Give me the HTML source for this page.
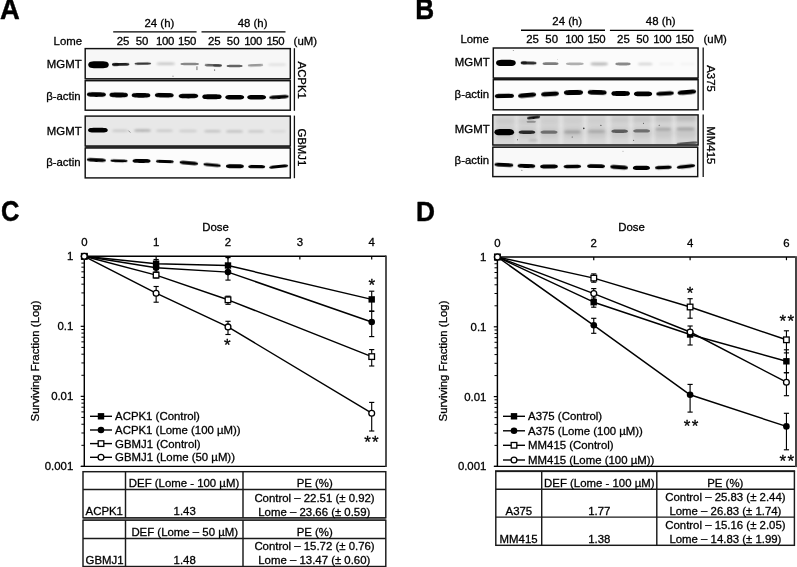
<!DOCTYPE html>
<html><head><meta charset="utf-8"><title>Figure</title>
<style>html,body{margin:0;padding:0;background:#fff;}body{width:797px;height:567px;overflow:hidden;font-family:"Liberation Sans",sans-serif;}svg{display:block;will-change:transform;}</style></head>
<body>
<svg width="797" height="567" viewBox="0 0 797 567" font-family='"Liberation Sans", sans-serif'>
<defs>
<filter id="b0" x="-50%" y="-100%" width="200%" height="300%"><feGaussianBlur stdDeviation="0.35"/></filter>
<filter id="b1" x="-20%" y="-100%" width="140%" height="300%"><feGaussianBlur stdDeviation="0.55"/></filter>
<filter id="b2" x="-20%" y="-100%" width="140%" height="300%"><feGaussianBlur stdDeviation="0.9"/></filter>
<filter id="b3" x="-20%" y="-100%" width="140%" height="300%"><feGaussianBlur stdDeviation="2.2"/></filter>
</defs>
<rect width="797" height="567" fill="#fff"/>
<text transform="translate(0.0 19.3) scale(1.0 1.055)" font-size="27.4" font-weight="bold" fill="#000" stroke="#000" stroke-width="0.45" stroke-linejoin="round">A</text>
<text transform="translate(415.3 19.3) scale(0.955 1.055)" font-size="27.4" font-weight="bold" fill="#000" stroke="#000" stroke-width="0.45" stroke-linejoin="round">B</text>
<text transform="translate(1.0 221.3) scale(0.93 1.05)" font-size="27.4" font-weight="bold" fill="#000" stroke="#000" stroke-width="0.45" stroke-linejoin="round">C</text>
<text transform="translate(416.0 221.3) scale(0.96 1.0)" font-size="27.4" font-weight="bold" fill="#000" stroke="#000" stroke-width="0.45" stroke-linejoin="round">D</text>
<text x="159.4" y="27.0" font-size="11.4" text-anchor="middle" font-weight="normal" fill="#000" stroke="#000" stroke-width="0.3" >24 (h)</text>
<text x="252.6" y="27.0" font-size="11.4" text-anchor="middle" font-weight="normal" fill="#000" stroke="#000" stroke-width="0.3" >48 (h)</text>
<line x1="113.2" y1="31.9" x2="196.6" y2="31.9" stroke="#000" stroke-width="1.35" />
<line x1="201.5" y1="31.9" x2="285.5" y2="31.9" stroke="#000" stroke-width="1.35" />
<text x="53.6" y="44.8" font-size="11.4" text-anchor="start" font-weight="normal" fill="#000" stroke="#000" stroke-width="0.3" >Lome</text>
<text x="123.1" y="44.8" font-size="11.4" text-anchor="middle" font-weight="normal" fill="#000" stroke="#000" stroke-width="0.3" >25</text>
<text x="142.0" y="44.8" font-size="11.4" text-anchor="middle" font-weight="normal" fill="#000" stroke="#000" stroke-width="0.3" >50</text>
<text x="165.0" y="44.8" font-size="11.4" text-anchor="middle" font-weight="normal" fill="#000" stroke="#000" stroke-width="0.3" letter-spacing="-0.4">100</text>
<text x="187.0" y="44.8" font-size="11.4" text-anchor="middle" font-weight="normal" fill="#000" stroke="#000" stroke-width="0.3" letter-spacing="-0.4">150</text>
<text x="214.3" y="44.8" font-size="11.4" text-anchor="middle" font-weight="normal" fill="#000" stroke="#000" stroke-width="0.3" >25</text>
<text x="233.2" y="44.8" font-size="11.4" text-anchor="middle" font-weight="normal" fill="#000" stroke="#000" stroke-width="0.3" >50</text>
<text x="253.1" y="44.8" font-size="11.4" text-anchor="middle" font-weight="normal" fill="#000" stroke="#000" stroke-width="0.3" letter-spacing="-0.4">100</text>
<text x="275.3" y="44.8" font-size="11.4" text-anchor="middle" font-weight="normal" fill="#000" stroke="#000" stroke-width="0.3" letter-spacing="-0.4">150</text>
<text x="293.6" y="44.8" font-size="11.4" text-anchor="start" font-weight="normal" fill="#000" stroke="#000" stroke-width="0.3" >(uM)</text>
<text x="81.6" y="68.1" font-size="11.4" text-anchor="end" font-weight="normal" fill="#000" stroke="#000" stroke-width="0.3" >MGMT</text>
<text x="80.6" y="99.5" font-size="11.4" text-anchor="end" font-weight="normal" fill="#000" stroke="#000" stroke-width="0.3" >&#946;-actin</text>
<text x="81.6" y="134.6" font-size="11.4" text-anchor="end" font-weight="normal" fill="#000" stroke="#000" stroke-width="0.3" >MGMT</text>
<text x="80.6" y="166.3" font-size="11.4" text-anchor="end" font-weight="normal" fill="#000" stroke="#000" stroke-width="0.3" >&#946;-actin</text>
<rect x="85.2" y="48.6" width="205.10000000000002" height="30.199999999999996" fill="#f7f7f7"/>
<rect x="85.2" y="80.7" width="205.10000000000002" height="29.5" fill="#fbfbfb"/>
<rect x="85.2" y="116.1" width="205.10000000000002" height="29.900000000000006" fill="#e8e8e8"/>
<rect x="85.2" y="148.0" width="205.10000000000002" height="29.900000000000006" fill="#fcfcfc"/>
<clipPath id="ca1"><rect x="85.2" y="48.6" width="205.10000000000002" height="29.699999999999996"/></clipPath>
<g clip-path="url(#ca1)">
<path d="M88.2,64.8 C88.8,61.3 91.1,61.3 98.5,61.3 S108.2,61.3 108.8,64.8 C108.2,68.3 105.9,68.3 98.5,68.3 S88.8,68.3 88.2,64.8Z" fill="#000" fill-opacity="1.0" filter="url(#b1)"/>
<path d="M111.9,64.4 C112.4,63.1 114.4,63.1 120.7,63.1 S128.9,63.1 129.4,64.4 C128.9,65.8 127.0,65.8 120.7,65.8 S112.4,65.8 111.9,64.4Z" fill="#000" fill-opacity="0.88" filter="url(#b1)" transform="rotate(-1.0 120.65 64.4)"/>
<path d="M112.2,64.5 C112.4,62.7 113.2,62.7 115.6,62.7 S118.8,62.7 119.0,64.5 C118.8,66.3 118.0,66.3 115.6,66.3 S112.4,66.3 112.2,64.5Z" fill="#000" fill-opacity="0.45" filter="url(#b1)"/>
<path d="M134.5,63.6 C135.0,62.4 136.8,62.4 142.8,62.4 S150.7,62.4 151.2,63.6 C150.7,64.8 148.9,64.8 142.8,64.8 S135.0,64.8 134.5,63.6Z" fill="#000" fill-opacity="0.78" filter="url(#b1)" transform="rotate(-1.0 142.85 63.6)"/>
<path d="M156.5,63.8 C157.0,62.6 159.1,62.6 165.8,62.6 S174.5,62.6 175.0,63.8 C174.5,65.0 172.4,65.0 165.8,65.0 S157.0,65.0 156.5,63.8Z" fill="#000" fill-opacity="0.2" filter="url(#b2)"/>
<path d="M180.4,64.0 C180.9,62.8 183.0,62.8 189.7,62.8 S198.5,62.8 199.0,64.0 C198.5,65.2 196.4,65.2 189.7,65.2 S180.9,65.2 180.4,64.0Z" fill="#000" fill-opacity="0.45" filter="url(#b1)"/>
<path d="M204.6,65.3 C205.1,64.0 207.0,64.0 213.3,64.0 S221.5,64.0 222.0,65.3 C221.5,66.6 219.6,66.6 213.3,66.6 S205.1,66.6 204.6,65.3Z" fill="#000" fill-opacity="0.6" filter="url(#b1)" transform="rotate(1.6 213.3 65.3)"/>
<path d="M213.0,65.6 C213.3,64.2 214.3,64.2 217.5,64.2 S221.7,64.2 222.0,65.6 C221.7,67.0 220.7,67.0 217.5,67.0 S213.3,67.0 213.0,65.6Z" fill="#000" fill-opacity="0.35" filter="url(#b1)"/>
<path d="M226.6,66.0 C227.0,64.8 228.8,64.8 234.6,64.8 S242.2,64.8 242.6,66.0 C242.2,67.2 240.4,67.2 234.6,67.2 S227.0,67.2 226.6,66.0Z" fill="#000" fill-opacity="0.6" filter="url(#b1)"/>
<path d="M247.8,65.3 C248.2,64.1 250.0,64.1 255.5,64.1 S262.8,64.1 263.2,65.3 C262.8,66.5 261.0,66.5 255.5,66.5 S248.2,66.5 247.8,65.3Z" fill="#000" fill-opacity="0.38" filter="url(#b1)" transform="rotate(-2.2 255.5 65.3)"/>
<path d="M267.8,64.6 C268.3,63.4 270.4,63.4 277.1,63.4 S285.9,63.4 286.4,64.6 C285.9,65.8 283.8,65.8 277.1,65.8 S268.3,65.8 267.8,64.6Z" fill="#000" fill-opacity="0.1" filter="url(#b2)"/>
<rect x="196.5" y="66.3" width="0.9" height="3.8" fill="#000" fill-opacity="0.6" filter="url(#b0)"/>
<circle cx="214.6" cy="70.0" r="0.6" fill="#000" fill-opacity="0.9" filter="url(#b0)"/>
<circle cx="173" cy="76.3" r="0.7" fill="#000" fill-opacity="0.35" filter="url(#b0)"/>
</g>
<clipPath id="ca2"><rect x="85.2" y="80.6" width="205.10000000000002" height="29.60000000000001"/></clipPath>
<g clip-path="url(#ca2)">
<path d="M86.8,94.6 C87.3,92.2 89.5,92.2 96.4,92.2 S105.5,92.2 106.0,94.6 C105.5,96.9 103.3,96.9 96.4,96.9 S87.3,96.9 86.8,94.6Z" fill="#000" fill-opacity="1.0" filter="url(#b1)" transform="rotate(0.9 96.4 94.6)"/>
<path d="M109.4,95.0 C109.9,92.6 112.0,92.6 118.7,92.6 S127.5,92.6 128.0,95.0 C127.5,97.4 125.4,97.4 118.7,97.4 S109.9,97.4 109.4,95.0Z" fill="#000" fill-opacity="1.0" filter="url(#b1)" transform="rotate(0.9 118.7 95.0)"/>
<path d="M131.6,95.3 C132.1,92.9 134.2,92.9 141.0,92.9 S149.9,92.9 150.4,95.3 C149.9,97.7 147.8,97.7 141.0,97.7 S132.1,97.7 131.6,95.3Z" fill="#000" fill-opacity="1.0" filter="url(#b1)" transform="rotate(0.6 141.0 95.3)"/>
<path d="M154.8,95.2 C155.3,93.0 157.5,93.0 164.3,93.0 S173.3,93.0 173.8,95.2 C173.3,97.4 171.1,97.4 164.3,97.4 S155.3,97.4 154.8,95.2Z" fill="#000" fill-opacity="1.0" filter="url(#b1)" transform="rotate(0.9 164.3 95.2)"/>
<path d="M178.6,96.1 C179.2,93.8 181.4,93.8 188.4,93.8 S197.7,93.8 198.3,96.1 C197.7,98.4 195.5,98.4 188.4,98.4 S179.2,98.4 178.6,96.1Z" fill="#000" fill-opacity="1.0" filter="url(#b1)" transform="rotate(-0.6 188.45 96.1)"/>
<path d="M202.2,96.8 C202.7,94.3 204.9,94.3 211.9,94.3 S221.2,94.3 221.7,96.8 C221.2,99.3 219.0,99.3 211.9,99.3 S202.7,99.3 202.2,96.8Z" fill="#000" fill-opacity="1.0" filter="url(#b1)"/>
<path d="M225.2,97.2 C225.7,94.9 227.9,94.9 234.7,94.9 S243.7,94.9 244.2,97.2 C243.7,99.5 241.5,99.5 234.7,99.5 S225.7,99.5 225.2,97.2Z" fill="#000" fill-opacity="1.0" filter="url(#b1)"/>
<path d="M247.2,97.2 C247.7,94.9 249.8,94.9 256.6,94.9 S265.6,94.9 266.1,97.2 C265.6,99.5 263.5,99.5 256.6,99.5 S247.7,99.5 247.2,97.2Z" fill="#000" fill-opacity="1.0" filter="url(#b1)"/>
<path d="M269.1,97.1 C269.7,95.2 271.9,95.2 279.0,95.2 S288.2,95.2 288.8,97.1 C288.2,98.9 286.0,98.9 279.0,98.9 S269.7,98.9 269.1,97.1Z" fill="#000" fill-opacity="1.0" filter="url(#b1)" transform="rotate(-3.5 278.95000000000005 97.1)"/>
</g>
<clipPath id="ca3"><rect x="85.2" y="116.0" width="205.10000000000002" height="29.599999999999994"/></clipPath>
<g clip-path="url(#ca3)">
<path d="M88.0,130.2 C88.6,127.8 90.8,127.8 97.9,127.8 S107.2,127.8 107.8,130.2 C107.2,132.6 105.0,132.6 97.9,132.6 S88.6,132.6 88.0,130.2Z" fill="#000" fill-opacity="1.0" filter="url(#b1)"/>
<path d="M112.0,130.8 C112.4,129.6 114.2,129.6 120.0,129.6 S127.6,129.6 128.0,130.8 C127.6,132.0 125.8,132.0 120.0,132.0 S112.4,132.0 112.0,130.8Z" fill="#000" fill-opacity="0.13" filter="url(#b2)"/>
<path d="M134.0,130.6 C134.5,129.3 136.4,129.3 142.5,129.3 S150.5,129.3 151.0,130.6 C150.5,131.9 148.6,131.9 142.5,131.9 S134.5,131.9 134.0,130.6Z" fill="#000" fill-opacity="0.24" filter="url(#b2)"/>
<path d="M156.0,130.8 C156.5,129.6 158.4,129.6 164.5,129.6 S172.5,129.6 173.0,130.8 C172.5,132.0 170.6,132.0 164.5,132.0 S156.5,132.0 156.0,130.8Z" fill="#000" fill-opacity="0.13" filter="url(#b2)"/>
<path d="M179.0,131.0 C179.5,129.8 181.5,129.8 188.0,129.8 S196.5,129.8 197.0,131.0 C196.5,132.2 194.5,132.2 188.0,132.2 S179.5,132.2 179.0,131.0Z" fill="#000" fill-opacity="0.12" filter="url(#b2)"/>
<path d="M204.0,131.2 C204.5,130.0 206.4,130.0 212.5,130.0 S220.5,130.0 221.0,131.2 C220.5,132.4 218.6,132.4 212.5,132.4 S204.5,132.4 204.0,131.2Z" fill="#000" fill-opacity="0.16" filter="url(#b2)"/>
<path d="M226.0,131.4 C226.5,130.2 228.4,130.2 234.5,130.2 S242.5,130.2 243.0,131.4 C242.5,132.6 240.6,132.6 234.5,132.6 S226.5,132.6 226.0,131.4Z" fill="#000" fill-opacity="0.18" filter="url(#b2)"/>
<path d="M248.0,131.4 C248.4,130.2 250.2,130.2 256.0,130.2 S263.6,130.2 264.0,131.4 C263.6,132.6 261.8,132.6 256.0,132.6 S248.4,132.6 248.0,131.4Z" fill="#000" fill-opacity="0.15" filter="url(#b2)"/>
<path d="M270.0,131.2 C270.4,130.0 272.2,130.0 278.0,130.0 S285.6,130.0 286.0,131.2 C285.6,132.4 283.8,132.4 278.0,132.4 S270.4,132.4 270.0,131.2Z" fill="#000" fill-opacity="0.07" filter="url(#b2)"/>
<line x1="128.4" y1="130.6" x2="130.4" y2="132.6" stroke="#000" stroke-opacity="0.55" stroke-width="0.7"/>
</g>
<clipPath id="ca4"><rect x="85.2" y="148.3" width="205.10000000000002" height="29.299999999999983"/></clipPath>
<g clip-path="url(#ca4)">
<path d="M86.7,160.1 C87.2,158.2 89.4,158.2 96.3,158.2 S105.5,158.2 106.0,160.1 C105.5,161.9 103.3,161.9 96.3,161.9 S87.2,161.9 86.7,160.1Z" fill="#000" fill-opacity="1.0" filter="url(#b1)" transform="rotate(2.7 96.35 160.1)"/>
<path d="M110.3,160.8 C110.8,159.4 112.7,159.4 119.0,159.4 S127.2,159.4 127.7,160.8 C127.2,162.2 125.3,162.2 119.0,162.2 S110.8,162.2 110.3,160.8Z" fill="#000" fill-opacity="1.0" filter="url(#b1)" transform="rotate(1.6 119.0 160.8)"/>
<path d="M132.5,161.0 C133.0,159.1 135.0,159.1 141.6,159.1 S150.1,159.1 150.6,161.0 C150.1,162.9 148.1,162.9 141.6,162.9 S133.0,162.9 132.5,161.0Z" fill="#000" fill-opacity="1.0" filter="url(#b1)" transform="rotate(0.6 141.55 161.0)"/>
<path d="M155.8,161.5 C156.3,160.0 158.3,160.0 164.9,160.0 S173.4,160.0 173.9,161.5 C173.4,163.0 171.4,163.0 164.9,163.0 S156.3,163.0 155.8,161.5Z" fill="#000" fill-opacity="1.0" filter="url(#b1)" transform="rotate(1.9 164.85000000000002 161.5)"/>
<path d="M179.5,163.0 C180.0,161.2 182.1,161.2 188.8,161.2 S197.7,161.2 198.2,163.0 C197.7,164.8 195.6,164.8 188.8,164.8 S180.0,164.8 179.5,163.0Z" fill="#000" fill-opacity="1.0" filter="url(#b1)" transform="rotate(4.9 188.85 163.0)"/>
<path d="M203.3,165.1 C203.8,163.6 205.8,163.6 212.1,163.6 S220.4,163.6 220.9,165.1 C220.4,166.6 218.4,166.6 212.1,166.6 S203.8,166.6 203.3,165.1Z" fill="#000" fill-opacity="1.0" filter="url(#b1)" transform="rotate(5.2 212.10000000000002 165.1)"/>
<path d="M225.9,166.3 C226.4,164.3 228.4,164.3 234.9,164.3 S243.4,164.3 243.9,166.3 C243.4,168.3 241.4,168.3 234.9,168.3 S226.4,168.3 225.9,166.3Z" fill="#000" fill-opacity="1.0" filter="url(#b1)" transform="rotate(0.6 234.9 166.3)"/>
<path d="M248.2,166.7 C248.7,165.1 250.6,165.1 256.7,165.1 S264.7,165.1 265.2,166.7 C264.7,168.3 262.8,168.3 256.7,168.3 S248.7,168.3 248.2,166.7Z" fill="#000" fill-opacity="1.0" filter="url(#b1)" transform="rotate(0.7 256.7 166.7)"/>
<path d="M269.1,166.5 C269.6,164.9 271.8,164.9 278.6,164.9 S287.7,164.9 288.2,166.5 C287.7,168.1 285.5,168.1 278.6,168.1 S269.6,168.1 269.1,166.5Z" fill="#000" fill-opacity="1.0" filter="url(#b1)" transform="rotate(-5.7 278.65 166.5)"/>
</g>
<rect x="85.2" y="146.0" width="205.10000000000002" height="2.0" fill="#5c5c5c"/>
<rect x="85.2" y="78.8" width="205.10000000000002" height="1.9" fill="#b8b8b8"/>
<rect x="85.2" y="48.6" width="205.10000000000002" height="30.199999999999996" fill="none" stroke="#111" stroke-width="1.45"/>
<rect x="85.2" y="80.7" width="205.10000000000002" height="29.5" fill="none" stroke="#111" stroke-width="1.45"/>
<rect x="85.2" y="116.1" width="205.10000000000002" height="29.900000000000006" fill="none" stroke="#111" stroke-width="1.45"/>
<rect x="85.2" y="148.0" width="205.10000000000002" height="29.900000000000006" fill="none" stroke="#111" stroke-width="1.45"/>
<line x1="294.4" y1="48.2" x2="294.4" y2="110.8" stroke="#111" stroke-width="1.3" />
<line x1="294.4" y1="115.6" x2="294.4" y2="178.2" stroke="#111" stroke-width="1.3" />
<text x="0" y="0" font-size="11.4" text-anchor="middle" font-weight="normal" fill="#000" stroke="#000" stroke-width="0.3" transform="translate(297.8 80.2) rotate(90)">ACPK1</text>
<text x="0" y="0" font-size="11.4" text-anchor="middle" font-weight="normal" fill="#000" stroke="#000" stroke-width="0.3" transform="translate(297.8 147.4) rotate(90)">GBMJ1</text>
<text x="567.2" y="24.8" font-size="11.4" text-anchor="middle" font-weight="normal" fill="#000" stroke="#000" stroke-width="0.3" >24 (h)</text>
<text x="660.7" y="24.9" font-size="11.4" text-anchor="middle" font-weight="normal" fill="#000" stroke="#000" stroke-width="0.3" >48 (h)</text>
<line x1="521.0" y1="30.2" x2="605.0" y2="30.2" stroke="#000" stroke-width="1.35" />
<line x1="609.9" y1="30.3" x2="693.5" y2="30.3" stroke="#000" stroke-width="1.35" />
<text x="460.4" y="42.9" font-size="11.4" text-anchor="start" font-weight="normal" fill="#000" stroke="#000" stroke-width="0.3" >Lome</text>
<text x="532.6" y="42.9" font-size="11.4" text-anchor="middle" font-weight="normal" fill="#000" stroke="#000" stroke-width="0.3" >25</text>
<text x="551.7" y="42.9" font-size="11.4" text-anchor="middle" font-weight="normal" fill="#000" stroke="#000" stroke-width="0.3" >50</text>
<text x="574.2" y="42.9" font-size="11.4" text-anchor="middle" font-weight="normal" fill="#000" stroke="#000" stroke-width="0.3" letter-spacing="-0.4">100</text>
<text x="596.3" y="42.9" font-size="11.4" text-anchor="middle" font-weight="normal" fill="#000" stroke="#000" stroke-width="0.3" letter-spacing="-0.4">150</text>
<text x="623.4" y="42.9" font-size="11.4" text-anchor="middle" font-weight="normal" fill="#000" stroke="#000" stroke-width="0.3" >25</text>
<text x="642.6" y="42.9" font-size="11.4" text-anchor="middle" font-weight="normal" fill="#000" stroke="#000" stroke-width="0.3" >50</text>
<text x="662.2" y="42.9" font-size="11.4" text-anchor="middle" font-weight="normal" fill="#000" stroke="#000" stroke-width="0.3" letter-spacing="-0.4">100</text>
<text x="684.5" y="42.9" font-size="11.4" text-anchor="middle" font-weight="normal" fill="#000" stroke="#000" stroke-width="0.3" letter-spacing="-0.4">150</text>
<text x="703.5" y="42.9" font-size="11.4" text-anchor="start" font-weight="normal" fill="#000" stroke="#000" stroke-width="0.3" >(uM)</text>
<text x="489.6" y="66.3" font-size="11.4" text-anchor="end" font-weight="normal" fill="#000" stroke="#000" stroke-width="0.3" >MGMT</text>
<text x="489.0" y="97.6" font-size="11.4" text-anchor="end" font-weight="normal" fill="#000" stroke="#000" stroke-width="0.3" >&#946;-actin</text>
<text x="489.6" y="132.6" font-size="11.4" text-anchor="end" font-weight="normal" fill="#000" stroke="#000" stroke-width="0.3" >MGMT</text>
<text x="489.0" y="163.9" font-size="11.4" text-anchor="end" font-weight="normal" fill="#000" stroke="#000" stroke-width="0.3" >&#946;-actin</text>
<rect x="493.3" y="48.0" width="204.8" height="30.0" fill="#fbfbfb"/>
<rect x="493.3" y="79.7" width="204.8" height="30.099999999999994" fill="#fcfcfc"/>
<rect x="492.8" y="114.9" width="205.3" height="30.099999999999994" fill="#e1e1e1"/>
<rect x="492.8" y="147.2" width="204.90000000000003" height="29.400000000000006" fill="#f9f9f9"/>
<clipPath id="cb1"><rect x="493.3" y="48.0" width="204.8" height="29.599999999999994"/></clipPath>
<g clip-path="url(#cb1)">
<path d="M496.0,62.9 C496.6,59.8 498.8,59.8 505.9,59.8 S515.2,59.8 515.8,62.9 C515.2,66.0 513.0,66.0 505.9,66.0 S496.6,66.0 496.0,62.9Z" fill="#000" fill-opacity="1.0" filter="url(#b1)"/>
<path d="M520.6,63.1 C521.0,61.6 522.8,61.6 528.6,61.6 S536.2,61.6 536.6,63.1 C536.2,64.6 534.4,64.6 528.6,64.6 S521.0,64.6 520.6,63.1Z" fill="#000" fill-opacity="0.82" filter="url(#b1)" transform="rotate(1.4 528.6 63.1)"/>
<path d="M520.8,62.8 C521.0,61.2 521.7,61.2 523.9,61.2 S526.8,61.2 527.0,62.8 C526.8,64.4 526.1,64.4 523.9,64.4 S521.0,64.4 520.8,62.8Z" fill="#000" fill-opacity="0.5" filter="url(#b1)"/>
<path d="M542.5,63.7 C543.0,62.3 544.8,62.3 550.5,62.3 S558.1,62.3 558.6,63.7 C558.1,65.1 556.3,65.1 550.5,65.1 S543.0,65.1 542.5,63.7Z" fill="#000" fill-opacity="0.5" filter="url(#b1)"/>
<path d="M565.8,63.8 C566.3,62.4 568.3,62.4 574.8,62.4 S583.3,62.4 583.8,63.8 C583.3,65.2 581.3,65.2 574.8,65.2 S566.3,65.2 565.8,63.8Z" fill="#000" fill-opacity="0.3" filter="url(#b1)"/>
<path d="M590.4,64.0 C590.9,62.6 592.9,62.6 599.2,62.6 S607.5,62.6 608.0,64.0 C607.5,65.4 605.5,65.4 599.2,65.4 S590.9,65.4 590.4,64.0Z" fill="#000" fill-opacity="0.27" filter="url(#b2)"/>
<path d="M615.3,64.0 C615.7,62.6 617.5,62.6 623.0,62.6 S630.3,62.6 630.7,64.0 C630.3,65.4 628.5,65.4 623.0,65.4 S615.7,65.4 615.3,64.0Z" fill="#000" fill-opacity="0.45" filter="url(#b1)"/>
<path d="M637.9,64.0 C638.3,62.7 640.0,62.7 645.2,62.7 S652.2,62.7 652.6,64.0 C652.2,65.3 650.5,65.3 645.2,65.3 S638.3,65.3 637.9,64.0Z" fill="#000" fill-opacity="0.15" filter="url(#b2)"/>
<path d="M659.0,64.0 C659.4,62.8 661.1,62.8 666.5,62.8 S673.6,62.8 674.0,64.0 C673.6,65.2 671.9,65.2 666.5,65.2 S659.4,65.2 659.0,64.0Z" fill="#000" fill-opacity="0.04" filter="url(#b2)"/>
<path d="M680.0,64.0 C680.4,62.8 682.1,62.8 687.5,62.8 S694.6,62.8 695.0,64.0 C694.6,65.2 692.9,65.2 687.5,65.2 S680.4,65.2 680.0,64.0Z" fill="#000" fill-opacity="0.03" filter="url(#b2)"/>
<circle cx="513.3" cy="50.4" r="0.5" fill="#000" fill-opacity="0.5" filter="url(#b0)"/>
<circle cx="557.5" cy="59.6" r="0.4" fill="#000" fill-opacity="0.4" filter="url(#b0)"/>
</g>
<clipPath id="cb2"><rect x="493.3" y="79.4" width="204.8" height="30.39999999999999"/></clipPath>
<g clip-path="url(#cb2)">
<path d="M494.7,95.9 C495.2,93.8 497.4,93.8 504.4,93.8 S513.6,93.8 514.1,95.9 C513.6,98.1 511.4,98.1 504.4,98.1 S495.2,98.1 494.7,95.9Z" fill="#000" fill-opacity="1.0" filter="url(#b1)" transform="rotate(-1.2 504.4 95.9)"/>
<path d="M518.0,95.2 C518.5,93.0 520.5,93.0 527.1,93.0 S535.7,93.0 536.2,95.2 C535.7,97.5 533.7,97.5 527.1,97.5 S518.5,97.5 518.0,95.2Z" fill="#000" fill-opacity="1.0" filter="url(#b1)" transform="rotate(-5.0 527.1 95.2)"/>
<path d="M541.0,93.9 C541.5,91.7 543.5,91.7 550.0,91.7 S558.5,91.7 559.0,93.9 C558.5,96.2 556.5,96.2 550.0,96.2 S541.5,96.2 541.0,93.9Z" fill="#000" fill-opacity="1.0" filter="url(#b1)" transform="rotate(-3.2 550.0 93.9)"/>
<path d="M563.8,92.5 C564.3,89.9 566.5,89.9 573.5,89.9 S582.6,89.9 583.1,92.5 C582.6,95.1 580.4,95.1 573.5,95.1 S564.3,95.1 563.8,92.5Z" fill="#000" fill-opacity="1.0" filter="url(#b1)" transform="rotate(-0.9 573.45 92.5)"/>
<path d="M587.7,92.4 C588.2,90.0 590.4,90.0 597.2,90.0 S606.2,90.0 606.7,92.4 C606.2,94.8 604.0,94.8 597.2,94.8 S588.2,94.8 587.7,92.4Z" fill="#000" fill-opacity="1.0" filter="url(#b1)" transform="rotate(1.5 597.2 92.4)"/>
<path d="M611.3,93.5 C611.8,91.0 613.9,91.0 620.6,91.0 S629.5,91.0 630.0,93.5 C629.5,96.0 627.4,96.0 620.6,96.0 S611.8,96.0 611.3,93.5Z" fill="#000" fill-opacity="1.0" filter="url(#b1)"/>
<path d="M633.9,93.9 C634.4,91.6 636.5,91.6 643.0,91.6 S651.7,91.6 652.2,93.9 C651.7,96.2 649.6,96.2 643.0,96.2 S634.4,96.2 633.9,93.9Z" fill="#000" fill-opacity="1.0" filter="url(#b1)"/>
<path d="M656.2,93.5 C656.7,91.5 658.7,91.5 665.0,91.5 S673.4,91.5 673.9,93.5 C673.4,95.5 671.4,95.5 665.0,95.5 S656.7,95.5 656.2,93.5Z" fill="#000" fill-opacity="1.0" filter="url(#b1)" transform="rotate(-3.2 665.05 93.5)"/>
<path d="M677.5,92.3 C678.0,90.1 680.1,90.1 686.9,90.1 S695.7,90.1 696.2,92.3 C695.7,94.5 693.6,94.5 686.9,94.5 S678.0,94.5 677.5,92.3Z" fill="#000" fill-opacity="1.0" filter="url(#b1)" transform="rotate(-4.9 686.85 92.3)"/>
</g>
<clipPath id="cb3"><rect x="493.3" y="114.9" width="204.8" height="29.69999999999999"/></clipPath>
<g clip-path="url(#cb3)">
<rect x="495" y="114" width="20" height="32" fill="#000" fill-opacity="0.045" filter="url(#b2)"/>
<rect x="518" y="114" width="19" height="32" fill="#000" fill-opacity="0.045" filter="url(#b2)"/>
<rect x="540" y="114" width="19" height="32" fill="#000" fill-opacity="0.045" filter="url(#b2)"/>
<rect x="563" y="114" width="20" height="32" fill="#000" fill-opacity="0.045" filter="url(#b2)"/>
<rect x="587" y="114" width="19" height="32" fill="#000" fill-opacity="0.045" filter="url(#b2)"/>
<rect x="611" y="114" width="18" height="32" fill="#000" fill-opacity="0.045" filter="url(#b2)"/>
<rect x="633" y="114" width="18" height="32" fill="#000" fill-opacity="0.045" filter="url(#b2)"/>
<rect x="655" y="114" width="17" height="32" fill="#000" fill-opacity="0.045" filter="url(#b2)"/>
<rect x="676" y="114" width="20" height="32" fill="#000" fill-opacity="0.045" filter="url(#b2)"/>
<path d="M495.0,121.3 C495.6,119.0 497.8,119.0 505.0,119.0 S514.4,119.0 515.0,121.3 C514.4,123.5 512.2,123.5 505.0,123.5 S495.6,123.5 495.0,121.3Z" fill="#000" fill-opacity="0.09000000000000001" filter="url(#b3)"/>
<path d="M495.0,132.5 C495.6,127.0 497.8,127.0 505.0,127.0 S514.4,127.0 515.0,132.5 C514.4,138.0 512.2,138.0 505.0,138.0 S495.6,138.0 495.0,132.5Z" fill="#000" fill-opacity="0.07" filter="url(#b3)"/>
<path d="M518.0,121.3 C518.5,119.0 520.7,119.0 527.5,119.0 S536.5,119.0 537.0,121.3 C536.5,123.5 534.3,123.5 527.5,123.5 S518.5,123.5 518.0,121.3Z" fill="#000" fill-opacity="0.09000000000000001" filter="url(#b3)"/>
<path d="M518.0,132.5 C518.5,127.0 520.7,127.0 527.5,127.0 S536.5,127.0 537.0,132.5 C536.5,138.0 534.3,138.0 527.5,138.0 S518.5,138.0 518.0,132.5Z" fill="#000" fill-opacity="0.07" filter="url(#b3)"/>
<path d="M540.0,121.0 C540.5,118.8 542.7,118.8 549.5,118.8 S558.5,118.8 559.0,121.0 C558.5,123.2 556.3,123.2 549.5,123.2 S540.5,123.2 540.0,121.0Z" fill="#000" fill-opacity="0.07200000000000001" filter="url(#b3)"/>
<path d="M540.0,132.5 C540.5,127.0 542.7,127.0 549.5,127.0 S558.5,127.0 559.0,132.5 C558.5,138.0 556.3,138.0 549.5,138.0 S540.5,138.0 540.0,132.5Z" fill="#000" fill-opacity="0.07" filter="url(#b3)"/>
<path d="M563.0,120.8 C563.6,118.5 565.8,118.5 573.0,118.5 S582.4,118.5 583.0,120.8 C582.4,123.0 580.2,123.0 573.0,123.0 S563.6,123.0 563.0,120.8Z" fill="#000" fill-opacity="0.06300000000000001" filter="url(#b3)"/>
<path d="M563.0,132.5 C563.6,127.0 565.8,127.0 573.0,127.0 S582.4,127.0 583.0,132.5 C582.4,138.0 580.2,138.0 573.0,138.0 S563.6,138.0 563.0,132.5Z" fill="#000" fill-opacity="0.07" filter="url(#b3)"/>
<path d="M587.0,120.6 C587.6,118.3 589.8,118.3 597.0,118.3 S606.4,118.3 607.0,120.6 C606.4,122.8 604.2,122.8 597.0,122.8 S587.6,122.8 587.0,120.6Z" fill="#000" fill-opacity="0.06300000000000001" filter="url(#b3)"/>
<path d="M587.0,132.5 C587.6,127.0 589.8,127.0 597.0,127.0 S606.4,127.0 607.0,132.5 C606.4,138.0 604.2,138.0 597.0,138.0 S587.6,138.0 587.0,132.5Z" fill="#000" fill-opacity="0.07" filter="url(#b3)"/>
<path d="M610.0,119.8 C610.6,117.5 612.8,117.5 620.0,117.5 S629.4,117.5 630.0,119.8 C629.4,122.0 627.2,122.0 620.0,122.0 S610.6,122.0 610.0,119.8Z" fill="#000" fill-opacity="0.09000000000000001" filter="url(#b3)"/>
<path d="M610.0,132.5 C610.6,127.0 612.8,127.0 620.0,127.0 S629.4,127.0 630.0,132.5 C629.4,138.0 627.2,138.0 620.0,138.0 S610.6,138.0 610.0,132.5Z" fill="#000" fill-opacity="0.07" filter="url(#b3)"/>
<path d="M632.0,119.4 C632.6,117.2 634.8,117.2 642.0,117.2 S651.4,117.2 652.0,119.4 C651.4,121.7 649.2,121.7 642.0,121.7 S632.6,121.7 632.0,119.4Z" fill="#000" fill-opacity="0.108" filter="url(#b3)"/>
<path d="M632.0,132.5 C632.6,127.0 634.8,127.0 642.0,127.0 S651.4,127.0 652.0,132.5 C651.4,138.0 649.2,138.0 642.0,138.0 S632.6,138.0 632.0,132.5Z" fill="#000" fill-opacity="0.07" filter="url(#b3)"/>
<path d="M654.0,119.0 C654.5,116.8 656.7,116.8 663.5,116.8 S672.5,116.8 673.0,119.0 C672.5,121.2 670.3,121.2 663.5,121.2 S654.5,121.2 654.0,119.0Z" fill="#000" fill-opacity="0.12600000000000003" filter="url(#b3)"/>
<path d="M654.0,132.5 C654.5,127.0 656.7,127.0 663.5,127.0 S672.5,127.0 673.0,132.5 C672.5,138.0 670.3,138.0 663.5,138.0 S654.5,138.0 654.0,132.5Z" fill="#000" fill-opacity="0.07" filter="url(#b3)"/>
<path d="M675.0,118.2 C675.6,116.0 678.1,116.0 686.0,116.0 S696.4,116.0 697.0,118.2 C696.4,120.5 693.9,120.5 686.0,120.5 S675.6,120.5 675.0,118.2Z" fill="#000" fill-opacity="0.18000000000000002" filter="url(#b3)"/>
<path d="M675.0,132.5 C675.6,127.0 678.1,127.0 686.0,127.0 S696.4,127.0 697.0,132.5 C696.4,138.0 693.9,138.0 686.0,138.0 S675.6,138.0 675.0,132.5Z" fill="#000" fill-opacity="0.07" filter="url(#b3)"/>
<path d="M494.4,132.2 C495.0,129.1 497.2,129.1 504.2,129.1 S513.5,129.1 514.1,132.2 C513.5,135.3 511.3,135.3 504.2,135.3 S495.0,135.3 494.4,132.2Z" fill="#000" fill-opacity="1.0" filter="url(#b1)"/>
<path d="M518.6,132.2 C519.1,130.5 520.9,130.5 527.0,130.5 S534.8,130.5 535.3,132.2 C534.8,133.9 533.0,133.9 527.0,133.9 S519.1,133.9 518.6,132.2Z" fill="#000" fill-opacity="0.8" filter="url(#b1)"/>
<path d="M540.5,132.2 C541.0,130.6 542.9,130.6 549.0,130.6 S557.0,130.6 557.5,132.2 C557.0,133.8 555.1,133.8 549.0,133.8 S541.0,133.8 540.5,132.2Z" fill="#000" fill-opacity="0.45" filter="url(#b1)"/>
<path d="M563.8,132.0 C564.3,130.5 566.2,130.5 572.3,130.5 S580.4,130.5 580.9,132.0 C580.4,133.5 578.5,133.5 572.3,133.5 S564.3,133.5 563.8,132.0Z" fill="#000" fill-opacity="0.2" filter="url(#b2)"/>
<path d="M587.7,131.4 C588.2,129.9 590.2,129.9 596.5,129.9 S604.8,129.9 605.3,131.4 C604.8,132.9 602.8,132.9 596.5,132.9 S588.2,132.9 587.7,131.4Z" fill="#000" fill-opacity="0.15" filter="url(#b2)"/>
<path d="M611.3,131.3 C611.8,129.6 613.6,129.6 619.6,129.6 S627.5,129.6 628.0,131.3 C627.5,133.0 625.7,133.0 619.6,133.0 S611.8,133.0 611.3,131.3Z" fill="#000" fill-opacity="0.55" filter="url(#b1)"/>
<path d="M633.2,130.9 C633.7,129.3 635.6,129.3 641.6,129.3 S649.5,129.3 650.0,130.9 C649.5,132.5 647.6,132.5 641.6,132.5 S633.7,132.5 633.2,130.9Z" fill="#000" fill-opacity="0.45" filter="url(#b1)"/>
<path d="M655.2,129.3 C655.6,127.8 657.4,127.8 663.2,127.8 S670.8,127.8 671.2,129.3 C670.8,130.8 669.0,130.8 663.2,130.8 S655.6,130.8 655.2,129.3Z" fill="#000" fill-opacity="0.16" filter="url(#b2)"/>
<path d="M676.4,129.0 C676.9,127.5 678.9,127.5 685.5,127.5 S694.0,127.5 694.5,129.0 C694.0,130.5 692.0,130.5 685.5,130.5 S676.9,130.5 676.4,129.0Z" fill="#000" fill-opacity="0.18" filter="url(#b2)"/>
<path d="M527.0,117.6 C527.4,116.3 528.8,116.3 533.6,116.3 S539.8,116.3 540.2,117.6 C539.8,118.9 538.4,118.9 533.6,118.9 S527.4,118.9 527.0,117.6Z" fill="#000" fill-opacity="0.95" filter="url(#b0)" transform="rotate(-6.1 533.6 117.6)"/>
<path d="M526.5,121.7 C526.8,120.7 527.8,120.7 531.2,120.7 S535.7,120.7 536.0,121.7 C535.7,122.7 534.7,122.7 531.2,122.7 S526.8,122.7 526.5,121.7Z" fill="#000" fill-opacity="0.3" filter="url(#b1)"/>
<path d="M528.5,140.3 C528.8,139.2 529.8,139.2 533.2,139.2 S537.7,139.2 538.0,140.3 C537.7,141.4 536.7,141.4 533.2,141.4 S528.8,141.4 528.5,140.3Z" fill="#000" fill-opacity="0.14" filter="url(#b2)"/>
<path d="M676.4,143.4 C677.0,142.1 679.4,142.1 687.0,142.1 S696.9,142.1 697.5,143.4 C696.9,144.7 694.5,144.7 687.0,144.7 S677.0,144.7 676.4,143.4Z" fill="#000" fill-opacity="0.6" filter="url(#b1)" transform="rotate(-4.9 686.95 143.4)"/>
<circle cx="583.8" cy="128.4" r="0.8" fill="#000" fill-opacity="0.75" filter="url(#b0)"/>
<circle cx="517.5" cy="139.7" r="0.5" fill="#000" fill-opacity="0.75" filter="url(#b0)"/>
<circle cx="572.2" cy="136.9" r="0.5" fill="#000" fill-opacity="0.75" filter="url(#b0)"/>
<circle cx="600.9" cy="125.3" r="0.6" fill="#000" fill-opacity="0.75" filter="url(#b0)"/>
<circle cx="643.5" cy="123.3" r="0.5" fill="#000" fill-opacity="0.75" filter="url(#b0)"/>
<circle cx="659.2" cy="125.3" r="0.5" fill="#000" fill-opacity="0.75" filter="url(#b0)"/>
<circle cx="633.6" cy="140.2" r="0.5" fill="#000" fill-opacity="0.75" filter="url(#b0)"/>
</g>
<clipPath id="cb4"><rect x="493.3" y="147.2" width="204.8" height="29.30000000000001"/></clipPath>
<g clip-path="url(#cb4)">
<path d="M494.4,164.9 C494.9,163.1 497.1,163.1 503.9,163.1 S512.9,163.1 513.4,164.9 C512.9,166.7 510.7,166.7 503.9,166.7 S494.9,166.7 494.4,164.9Z" fill="#000" fill-opacity="1.0" filter="url(#b1)" transform="rotate(2.7 503.9 164.9)"/>
<path d="M517.5,166.0 C518.0,164.1 520.0,164.1 526.4,164.1 S534.8,164.1 535.3,166.0 C534.8,167.9 532.8,167.9 526.4,167.9 S518.0,167.9 517.5,166.0Z" fill="#000" fill-opacity="1.0" filter="url(#b1)" transform="rotate(1.6 526.4 166.0)"/>
<path d="M540.1,166.5 C540.6,164.5 542.6,164.5 549.0,164.5 S557.4,164.5 557.9,166.5 C557.4,168.5 555.4,168.5 549.0,168.5 S540.6,168.5 540.1,166.5Z" fill="#000" fill-opacity="1.0" filter="url(#b1)" transform="rotate(-0.6 549.0 166.5)"/>
<path d="M563.5,166.5 C564.0,164.7 566.0,164.7 572.4,164.7 S580.7,164.7 581.2,166.5 C580.7,168.3 578.7,168.3 572.4,168.3 S564.0,168.3 563.5,166.5Z" fill="#000" fill-opacity="1.0" filter="url(#b1)" transform="rotate(-1.0 572.35 166.5)"/>
<path d="M587.1,166.2 C587.6,164.3 589.6,164.3 596.0,164.3 S604.5,164.3 605.0,166.2 C604.5,168.1 602.5,168.1 596.0,168.1 S587.6,168.1 587.1,166.2Z" fill="#000" fill-opacity="1.0" filter="url(#b1)" transform="rotate(1.0 596.05 166.2)"/>
<path d="M610.2,167.2 C610.7,165.2 612.7,165.2 619.1,165.2 S627.5,165.2 628.0,167.2 C627.5,169.2 625.5,169.2 619.1,169.2 S610.7,169.2 610.2,167.2Z" fill="#000" fill-opacity="1.0" filter="url(#b1)" transform="rotate(3.9 619.1 167.2)"/>
<path d="M632.8,167.9 C633.3,165.8 635.2,165.8 641.4,165.8 S649.5,165.8 650.0,167.9 C649.5,170.0 647.6,170.0 641.4,170.0 S633.3,170.0 632.8,167.9Z" fill="#000" fill-opacity="1.0" filter="url(#b1)"/>
<path d="M654.9,167.5 C655.4,165.7 657.3,165.7 663.4,165.7 S671.4,165.7 671.9,167.5 C671.4,169.3 669.5,169.3 663.4,169.3 S655.4,169.3 654.9,167.5Z" fill="#000" fill-opacity="1.0" filter="url(#b1)" transform="rotate(-2.4 663.4 167.5)"/>
<path d="M676.7,166.5 C677.2,164.8 679.3,164.8 686.0,164.8 S694.7,164.8 695.2,166.5 C694.7,168.2 692.6,168.2 686.0,168.2 S677.2,168.2 676.7,166.5Z" fill="#000" fill-opacity="1.0" filter="url(#b1)" transform="rotate(-6.2 685.95 166.5)"/>
<circle cx="521.9" cy="170.2" r="0.5" fill="#000" fill-opacity="0.7" filter="url(#b0)"/>
<circle cx="623.0" cy="151.2" r="0.5" fill="#000" fill-opacity="0.4" filter="url(#b0)"/>
</g>
<rect x="493.3" y="78.0" width="204.8" height="1.7" fill="#2c2c2c"/>
<rect x="492.8" y="145.0" width="205.09999999999997" height="2.2" fill="#c4c4c4"/>
<rect x="493.3" y="48.0" width="204.8" height="30.0" fill="none" stroke="#111" stroke-width="1.45"/>
<rect x="493.3" y="79.7" width="204.8" height="30.099999999999994" fill="none" stroke="#111" stroke-width="1.45"/>
<rect x="492.8" y="114.9" width="205.3" height="30.099999999999994" fill="none" stroke="#111" stroke-width="1.45"/>
<rect x="492.8" y="147.2" width="204.90000000000003" height="29.400000000000006" fill="none" stroke="#111" stroke-width="1.45"/>
<line x1="703.2" y1="47.4" x2="703.2" y2="110.2" stroke="#111" stroke-width="1.3" />
<line x1="703.2" y1="114.4" x2="703.2" y2="177.0" stroke="#111" stroke-width="1.3" />
<text x="0" y="0" font-size="11.4" text-anchor="middle" font-weight="normal" fill="#000" stroke="#000" stroke-width="0.3" transform="translate(706.8 78.5) rotate(90)">A375</text>
<text x="0" y="0" font-size="11.4" text-anchor="middle" font-weight="normal" fill="#000" stroke="#000" stroke-width="0.3" transform="translate(706.8 145.3) rotate(90)">MM415</text>
<line x1="84.3" y1="256.3" x2="386.0" y2="256.3" stroke="#000" stroke-width="1.6" />
<line x1="84.3" y1="256.3" x2="84.3" y2="466.4" stroke="#000" stroke-width="1.45" />
<line x1="80.89999999999999" y1="466.4" x2="386.0" y2="466.4" stroke="#000" stroke-width="1.3" />
<line x1="386.0" y1="255.5" x2="386.0" y2="467.04999999999995" stroke="#333" stroke-width="1.7" />
<text x="84.3" y="246.4" font-size="11.4" text-anchor="middle" font-weight="normal" fill="#000" stroke="#000" stroke-width="0.3" >0</text>
<line x1="156.14999999999998" y1="256.3" x2="156.14999999999998" y2="259.5" stroke="#000" stroke-width="1.2" />
<text x="156.14999999999998" y="246.4" font-size="11.4" text-anchor="middle" font-weight="normal" fill="#000" stroke="#000" stroke-width="0.3" >1</text>
<line x1="228.0" y1="256.3" x2="228.0" y2="259.5" stroke="#000" stroke-width="1.2" />
<text x="228.0" y="246.4" font-size="11.4" text-anchor="middle" font-weight="normal" fill="#000" stroke="#000" stroke-width="0.3" >2</text>
<line x1="299.84999999999997" y1="256.3" x2="299.84999999999997" y2="259.5" stroke="#000" stroke-width="1.2" />
<text x="299.84999999999997" y="246.4" font-size="11.4" text-anchor="middle" font-weight="normal" fill="#000" stroke="#000" stroke-width="0.3" >3</text>
<line x1="371.7" y1="256.3" x2="371.7" y2="259.5" stroke="#000" stroke-width="1.2" />
<text x="371.7" y="246.4" font-size="11.4" text-anchor="middle" font-weight="normal" fill="#000" stroke="#000" stroke-width="0.3" >4</text>
<text x="202.3" y="230.6" font-size="11.4" text-anchor="start" font-weight="normal" fill="#000" stroke="#000" stroke-width="0.3" >Dose</text>
<line x1="80.7" y1="256.3" x2="84.3" y2="256.3" stroke="#000" stroke-width="1.2" />
<line x1="81.39999999999999" y1="305.2511993036658" x2="84.3" y2="305.2511993036658" stroke="#000" stroke-width="1.0" />
<line x1="81.39999999999999" y1="292.918941461133" x2="84.3" y2="292.918941461133" stroke="#000" stroke-width="1.0" />
<line x1="81.39999999999999" y1="284.1690652739984" x2="84.3" y2="284.1690652739984" stroke="#000" stroke-width="1.0" />
<line x1="81.39999999999999" y1="277.3821340296675" x2="84.3" y2="277.3821340296675" stroke="#000" stroke-width="1.0" />
<line x1="81.39999999999999" y1="271.8368074314655" x2="84.3" y2="271.8368074314655" stroke="#000" stroke-width="1.0" />
<line x1="81.39999999999999" y1="267.1483005976682" x2="84.3" y2="267.1483005976682" stroke="#000" stroke-width="1.0" />
<line x1="81.39999999999999" y1="263.0869312443309" x2="84.3" y2="263.0869312443309" stroke="#000" stroke-width="1.0" />
<line x1="81.39999999999999" y1="259.5045495889326" x2="84.3" y2="259.5045495889326" stroke="#000" stroke-width="1.0" />
<line x1="80.7" y1="326.3333333333333" x2="84.3" y2="326.3333333333333" stroke="#000" stroke-width="1.2" />
<line x1="81.39999999999999" y1="375.28453263699913" x2="84.3" y2="375.28453263699913" stroke="#000" stroke-width="1.0" />
<line x1="81.39999999999999" y1="362.9522747944663" x2="84.3" y2="362.9522747944663" stroke="#000" stroke-width="1.0" />
<line x1="81.39999999999999" y1="354.2023986073317" x2="84.3" y2="354.2023986073317" stroke="#000" stroke-width="1.0" />
<line x1="81.39999999999999" y1="347.4154673630008" x2="84.3" y2="347.4154673630008" stroke="#000" stroke-width="1.0" />
<line x1="81.39999999999999" y1="341.8701407647988" x2="84.3" y2="341.8701407647988" stroke="#000" stroke-width="1.0" />
<line x1="81.39999999999999" y1="337.1816339310015" x2="84.3" y2="337.1816339310015" stroke="#000" stroke-width="1.0" />
<line x1="81.39999999999999" y1="333.1202645776642" x2="84.3" y2="333.1202645776642" stroke="#000" stroke-width="1.0" />
<line x1="81.39999999999999" y1="329.5378829222659" x2="84.3" y2="329.5378829222659" stroke="#000" stroke-width="1.0" />
<line x1="80.7" y1="396.3666666666667" x2="84.3" y2="396.3666666666667" stroke="#000" stroke-width="1.2" />
<line x1="81.39999999999999" y1="445.3178659703325" x2="84.3" y2="445.3178659703325" stroke="#000" stroke-width="1.0" />
<line x1="81.39999999999999" y1="432.98560812779965" x2="84.3" y2="432.98560812779965" stroke="#000" stroke-width="1.0" />
<line x1="81.39999999999999" y1="424.235731940665" x2="84.3" y2="424.235731940665" stroke="#000" stroke-width="1.0" />
<line x1="81.39999999999999" y1="417.44880069633416" x2="84.3" y2="417.44880069633416" stroke="#000" stroke-width="1.0" />
<line x1="81.39999999999999" y1="411.90347409813216" x2="84.3" y2="411.90347409813216" stroke="#000" stroke-width="1.0" />
<line x1="81.39999999999999" y1="407.21496726433486" x2="84.3" y2="407.21496726433486" stroke="#000" stroke-width="1.0" />
<line x1="81.39999999999999" y1="403.1535979109976" x2="84.3" y2="403.1535979109976" stroke="#000" stroke-width="1.0" />
<line x1="81.39999999999999" y1="399.57121625559927" x2="84.3" y2="399.57121625559927" stroke="#000" stroke-width="1.0" />
<line x1="80.7" y1="466.4" x2="84.3" y2="466.4" stroke="#000" stroke-width="1.2" />
<text x="73.3" y="260.3" font-size="11.4" text-anchor="end" font-weight="normal" fill="#000" stroke="#000" stroke-width="0.3" >1</text>
<text x="73.3" y="330.3333333333333" font-size="11.4" text-anchor="end" font-weight="normal" fill="#000" stroke="#000" stroke-width="0.3" >0.1</text>
<text x="73.3" y="400.3666666666667" font-size="11.4" text-anchor="end" font-weight="normal" fill="#000" stroke="#000" stroke-width="0.3" >0.01</text>
<text x="73.3" y="470.4" font-size="11.4" text-anchor="end" font-weight="normal" fill="#000" stroke="#000" stroke-width="0.3" >0.001</text>
<text x="0" y="0" font-size="11.4" text-anchor="middle" font-weight="normal" fill="#000" stroke="#000" stroke-width="0.3" transform="translate(39.3 361.0) rotate(-90)">Surviving Fraction (Log)</text>
<polyline points="84.3,256.3 156.1,263.7 228.0,265.5 371.7,299.4" fill="none" stroke="#000" stroke-width="1.45" stroke-linejoin="round"/>
<polyline points="84.3,256.3 156.1,267.7 228.0,272.1 371.7,322.0" fill="none" stroke="#000" stroke-width="1.45" stroke-linejoin="round"/>
<polyline points="84.3,256.3 156.1,275.1 228.0,299.8 371.7,356.6" fill="none" stroke="#000" stroke-width="1.45" stroke-linejoin="round"/>
<polyline points="84.3,256.3 156.1,293.2 228.0,326.9 371.7,413.2" fill="none" stroke="#000" stroke-width="1.45" stroke-linejoin="round"/>
<line x1="156.14999999999998" y1="259.5" x2="156.14999999999998" y2="268.6" stroke="#000" stroke-width="1.15" />
<line x1="153.54999999999998" y1="259.5" x2="158.74999999999997" y2="259.5" stroke="#000" stroke-width="1.15" />
<line x1="153.54999999999998" y1="268.6" x2="158.74999999999997" y2="268.6" stroke="#000" stroke-width="1.15" />
<line x1="228.0" y1="257.6" x2="228.0" y2="273.0" stroke="#000" stroke-width="1.15" />
<line x1="225.4" y1="257.6" x2="230.6" y2="257.6" stroke="#000" stroke-width="1.15" />
<line x1="225.4" y1="273.0" x2="230.6" y2="273.0" stroke="#000" stroke-width="1.15" />
<line x1="371.7" y1="291.2" x2="371.7" y2="311.0" stroke="#000" stroke-width="1.15" />
<line x1="369.09999999999997" y1="291.2" x2="374.3" y2="291.2" stroke="#000" stroke-width="1.15" />
<line x1="369.09999999999997" y1="311.0" x2="374.3" y2="311.0" stroke="#000" stroke-width="1.15" />
<line x1="156.14999999999998" y1="264.0" x2="156.14999999999998" y2="272.0" stroke="#000" stroke-width="1.15" />
<line x1="153.54999999999998" y1="264.0" x2="158.74999999999997" y2="264.0" stroke="#000" stroke-width="1.15" />
<line x1="153.54999999999998" y1="272.0" x2="158.74999999999997" y2="272.0" stroke="#000" stroke-width="1.15" />
<line x1="228.0" y1="266.0" x2="228.0" y2="280.1" stroke="#000" stroke-width="1.15" />
<line x1="225.4" y1="266.0" x2="230.6" y2="266.0" stroke="#000" stroke-width="1.15" />
<line x1="225.4" y1="280.1" x2="230.6" y2="280.1" stroke="#000" stroke-width="1.15" />
<line x1="371.7" y1="311.4" x2="371.7" y2="336.6" stroke="#000" stroke-width="1.15" />
<line x1="369.09999999999997" y1="311.4" x2="374.3" y2="311.4" stroke="#000" stroke-width="1.15" />
<line x1="369.09999999999997" y1="336.6" x2="374.3" y2="336.6" stroke="#000" stroke-width="1.15" />
<line x1="156.14999999999998" y1="272.5" x2="156.14999999999998" y2="278.0" stroke="#000" stroke-width="1.15" />
<line x1="153.54999999999998" y1="272.5" x2="158.74999999999997" y2="272.5" stroke="#000" stroke-width="1.15" />
<line x1="153.54999999999998" y1="278.0" x2="158.74999999999997" y2="278.0" stroke="#000" stroke-width="1.15" />
<line x1="228.0" y1="296.2" x2="228.0" y2="304.3" stroke="#000" stroke-width="1.15" />
<line x1="225.4" y1="296.2" x2="230.6" y2="296.2" stroke="#000" stroke-width="1.15" />
<line x1="225.4" y1="304.3" x2="230.6" y2="304.3" stroke="#000" stroke-width="1.15" />
<line x1="371.7" y1="349.6" x2="371.7" y2="366.0" stroke="#000" stroke-width="1.15" />
<line x1="369.09999999999997" y1="349.6" x2="374.3" y2="349.6" stroke="#000" stroke-width="1.15" />
<line x1="369.09999999999997" y1="366.0" x2="374.3" y2="366.0" stroke="#000" stroke-width="1.15" />
<line x1="156.14999999999998" y1="286.5" x2="156.14999999999998" y2="302.2" stroke="#000" stroke-width="1.15" />
<line x1="153.54999999999998" y1="286.5" x2="158.74999999999997" y2="286.5" stroke="#000" stroke-width="1.15" />
<line x1="153.54999999999998" y1="302.2" x2="158.74999999999997" y2="302.2" stroke="#000" stroke-width="1.15" />
<line x1="228.0" y1="321.3" x2="228.0" y2="334.5" stroke="#000" stroke-width="1.15" />
<line x1="225.4" y1="321.3" x2="230.6" y2="321.3" stroke="#000" stroke-width="1.15" />
<line x1="225.4" y1="334.5" x2="230.6" y2="334.5" stroke="#000" stroke-width="1.15" />
<line x1="371.7" y1="402.4" x2="371.7" y2="431.0" stroke="#000" stroke-width="1.15" />
<line x1="369.09999999999997" y1="402.4" x2="374.3" y2="402.4" stroke="#000" stroke-width="1.15" />
<line x1="369.09999999999997" y1="431.0" x2="374.3" y2="431.0" stroke="#000" stroke-width="1.15" />
<rect x="81.1" y="253.1" width="6.4" height="6.4" fill="#000"/>
<rect x="152.9" y="260.5" width="6.4" height="6.4" fill="#000"/>
<rect x="224.8" y="262.3" width="6.4" height="6.4" fill="#000"/>
<rect x="368.5" y="296.2" width="6.4" height="6.4" fill="#000"/>
<circle cx="84.3" cy="256.3" r="3.3" fill="#000"/>
<circle cx="156.1" cy="267.7" r="3.3" fill="#000"/>
<circle cx="228.0" cy="272.1" r="3.3" fill="#000"/>
<circle cx="371.7" cy="322.0" r="3.3" fill="#000"/>
<rect x="81.5" y="253.5" width="5.6" height="5.6" fill="#fff" stroke="#000" stroke-width="1.3"/>
<rect x="153.3" y="272.3" width="5.6" height="5.6" fill="#fff" stroke="#000" stroke-width="1.3"/>
<rect x="225.2" y="297.0" width="5.6" height="5.6" fill="#fff" stroke="#000" stroke-width="1.3"/>
<rect x="368.9" y="353.8" width="5.6" height="5.6" fill="#fff" stroke="#000" stroke-width="1.3"/>
<circle cx="84.3" cy="256.3" r="2.9" fill="#fff" stroke="#000" stroke-width="1.3"/>
<circle cx="156.1" cy="293.2" r="2.9" fill="#fff" stroke="#000" stroke-width="1.3"/>
<circle cx="228.0" cy="326.9" r="2.9" fill="#fff" stroke="#000" stroke-width="1.3"/>
<circle cx="371.7" cy="413.2" r="2.9" fill="#fff" stroke="#000" stroke-width="1.3"/>
<text x="227.2" y="351.45" font-size="17" text-anchor="middle" font-weight="normal" fill="#000" stroke="#000" stroke-width="0.3" >*</text>
<text x="371.7" y="290.95" font-size="17" text-anchor="middle" font-weight="normal" fill="#000" stroke="#000" stroke-width="0.3" >*</text>
<text x="372.04999999999995" y="448.45" font-size="17" text-anchor="middle" font-weight="normal" fill="#000" stroke="#000" stroke-width="0.3" letter-spacing="1.3">**</text>
<line x1="90.0" y1="416.3" x2="112.0" y2="416.3" stroke="#000" stroke-width="1.4" />
<rect x="97.8" y="413.1" width="6.4" height="6.4" fill="#000"/>
<text x="115.1" y="420.2" font-size="11.4" text-anchor="start" font-weight="normal" fill="#000" stroke="#000" stroke-width="0.3" >ACPK1 (Control)</text>
<line x1="90.0" y1="430.0" x2="112.0" y2="430.0" stroke="#000" stroke-width="1.4" />
<circle cx="101.0" cy="430.0" r="3.3" fill="#000"/>
<text x="115.1" y="433.9" font-size="11.4" text-anchor="start" font-weight="normal" fill="#000" stroke="#000" stroke-width="0.3" >ACPK1 (Lome (100 &#181;M))</text>
<line x1="90.0" y1="443.6" x2="112.0" y2="443.6" stroke="#000" stroke-width="1.4" />
<rect x="98.2" y="440.8" width="5.6" height="5.6" fill="#fff" stroke="#000" stroke-width="1.3"/>
<text x="115.1" y="447.5" font-size="11.4" text-anchor="start" font-weight="normal" fill="#000" stroke="#000" stroke-width="0.3" >GBMJ1 (Control)</text>
<line x1="90.0" y1="457.3" x2="112.0" y2="457.3" stroke="#000" stroke-width="1.4" />
<circle cx="101.0" cy="457.3" r="2.9" fill="#fff" stroke="#000" stroke-width="1.3"/>
<text x="115.1" y="461.2" font-size="11.4" text-anchor="start" font-weight="normal" fill="#000" stroke="#000" stroke-width="0.3" >GBMJ1 (Lome (50 &#181;M))</text>
<line x1="497.4" y1="257.0" x2="795.4" y2="257.0" stroke="#000" stroke-width="1.6" />
<line x1="497.4" y1="257.0" x2="497.4" y2="466.4" stroke="#000" stroke-width="1.45" />
<line x1="494.0" y1="466.4" x2="795.4" y2="466.4" stroke="#000" stroke-width="1.3" />
<rect x="795" y="256.2" width="2" height="210.89999999999998" fill="#444"/>
<text x="497.4" y="246.8" font-size="11.4" text-anchor="middle" font-weight="normal" fill="#000" stroke="#000" stroke-width="0.3" >0</text>
<line x1="593.75" y1="257.0" x2="593.75" y2="260.2" stroke="#000" stroke-width="1.2" />
<text x="593.75" y="246.8" font-size="11.4" text-anchor="middle" font-weight="normal" fill="#000" stroke="#000" stroke-width="0.3" >2</text>
<line x1="690.0999999999999" y1="257.0" x2="690.0999999999999" y2="260.2" stroke="#000" stroke-width="1.2" />
<text x="690.0999999999999" y="246.8" font-size="11.4" text-anchor="middle" font-weight="normal" fill="#000" stroke="#000" stroke-width="0.3" >4</text>
<line x1="786.4499999999999" y1="257.0" x2="786.4499999999999" y2="260.2" stroke="#000" stroke-width="1.2" />
<text x="786.4499999999999" y="246.8" font-size="11.4" text-anchor="middle" font-weight="normal" fill="#000" stroke="#000" stroke-width="0.3" >6</text>
<text x="618.3" y="230.6" font-size="11.4" text-anchor="start" font-weight="normal" fill="#000" stroke="#000" stroke-width="0.3" >Dose</text>
<line x1="493.79999999999995" y1="257.0" x2="497.4" y2="257.0" stroke="#000" stroke-width="1.2" />
<line x1="494.5" y1="305.7881063026541" x2="497.4" y2="305.7881063026541" stroke="#000" stroke-width="1.0" />
<line x1="494.5" y1="293.4969364205676" x2="497.4" y2="293.4969364205676" stroke="#000" stroke-width="1.0" />
<line x1="494.5" y1="284.7762126053082" x2="497.4" y2="284.7762126053082" stroke="#000" stroke-width="1.0" />
<line x1="494.5" y1="278.0118936973459" x2="497.4" y2="278.0118936973459" stroke="#000" stroke-width="1.0" />
<line x1="494.5" y1="272.4850427232217" x2="497.4" y2="272.4850427232217" stroke="#000" stroke-width="1.0" />
<line x1="494.5" y1="267.8121568070049" x2="497.4" y2="267.8121568070049" stroke="#000" stroke-width="1.0" />
<line x1="494.5" y1="263.7643189079623" x2="497.4" y2="263.7643189079623" stroke="#000" stroke-width="1.0" />
<line x1="494.5" y1="260.19387284113515" x2="497.4" y2="260.19387284113515" stroke="#000" stroke-width="1.0" />
<line x1="493.79999999999995" y1="326.8" x2="497.4" y2="326.8" stroke="#000" stroke-width="1.2" />
<line x1="494.5" y1="375.5881063026541" x2="497.4" y2="375.5881063026541" stroke="#000" stroke-width="1.0" />
<line x1="494.5" y1="363.2969364205676" x2="497.4" y2="363.2969364205676" stroke="#000" stroke-width="1.0" />
<line x1="494.5" y1="354.5762126053082" x2="497.4" y2="354.5762126053082" stroke="#000" stroke-width="1.0" />
<line x1="494.5" y1="347.8118936973459" x2="497.4" y2="347.8118936973459" stroke="#000" stroke-width="1.0" />
<line x1="494.5" y1="342.2850427232217" x2="497.4" y2="342.2850427232217" stroke="#000" stroke-width="1.0" />
<line x1="494.5" y1="337.6121568070049" x2="497.4" y2="337.6121568070049" stroke="#000" stroke-width="1.0" />
<line x1="494.5" y1="333.56431890796233" x2="497.4" y2="333.56431890796233" stroke="#000" stroke-width="1.0" />
<line x1="494.5" y1="329.99387284113516" x2="497.4" y2="329.99387284113516" stroke="#000" stroke-width="1.0" />
<line x1="493.79999999999995" y1="396.6" x2="497.4" y2="396.6" stroke="#000" stroke-width="1.2" />
<line x1="494.5" y1="445.38810630265414" x2="497.4" y2="445.38810630265414" stroke="#000" stroke-width="1.0" />
<line x1="494.5" y1="433.0969364205676" x2="497.4" y2="433.0969364205676" stroke="#000" stroke-width="1.0" />
<line x1="494.5" y1="424.37621260530824" x2="497.4" y2="424.37621260530824" stroke="#000" stroke-width="1.0" />
<line x1="494.5" y1="417.6118936973459" x2="497.4" y2="417.6118936973459" stroke="#000" stroke-width="1.0" />
<line x1="494.5" y1="412.0850427232217" x2="497.4" y2="412.0850427232217" stroke="#000" stroke-width="1.0" />
<line x1="494.5" y1="407.4121568070049" x2="497.4" y2="407.4121568070049" stroke="#000" stroke-width="1.0" />
<line x1="494.5" y1="403.36431890796234" x2="497.4" y2="403.36431890796234" stroke="#000" stroke-width="1.0" />
<line x1="494.5" y1="399.79387284113517" x2="497.4" y2="399.79387284113517" stroke="#000" stroke-width="1.0" />
<line x1="493.79999999999995" y1="466.4" x2="497.4" y2="466.4" stroke="#000" stroke-width="1.2" />
<text x="486.4" y="261.0" font-size="11.4" text-anchor="end" font-weight="normal" fill="#000" stroke="#000" stroke-width="0.3" >1</text>
<text x="486.4" y="330.8" font-size="11.4" text-anchor="end" font-weight="normal" fill="#000" stroke="#000" stroke-width="0.3" >0.1</text>
<text x="486.4" y="400.6" font-size="11.4" text-anchor="end" font-weight="normal" fill="#000" stroke="#000" stroke-width="0.3" >0.01</text>
<text x="486.4" y="470.4" font-size="11.4" text-anchor="end" font-weight="normal" fill="#000" stroke="#000" stroke-width="0.3" >0.001</text>
<text x="0" y="0" font-size="11.4" text-anchor="middle" font-weight="normal" fill="#000" stroke="#000" stroke-width="0.3" transform="translate(446.7 361.0) rotate(-90)">Surviving Fraction (Log)</text>
<polyline points="497.4,257.0 593.8,302.2 690.1,334.5 786.4,361.3" fill="none" stroke="#000" stroke-width="1.45" stroke-linejoin="round"/>
<polyline points="497.4,257.0 593.8,325.3 690.1,394.8 786.4,426.4" fill="none" stroke="#000" stroke-width="1.45" stroke-linejoin="round"/>
<polyline points="497.4,257.0 593.8,278.1 690.1,307.0 786.4,339.8" fill="none" stroke="#000" stroke-width="1.45" stroke-linejoin="round"/>
<polyline points="497.4,257.0 593.8,293.6 690.1,332.0 786.4,382.2" fill="none" stroke="#000" stroke-width="1.45" stroke-linejoin="round"/>
<line x1="593.75" y1="298.0" x2="593.75" y2="307.2" stroke="#000" stroke-width="1.15" />
<line x1="591.15" y1="298.0" x2="596.35" y2="298.0" stroke="#000" stroke-width="1.15" />
<line x1="591.15" y1="307.2" x2="596.35" y2="307.2" stroke="#000" stroke-width="1.15" />
<line x1="690.0999999999999" y1="330.0" x2="690.0999999999999" y2="345.0" stroke="#000" stroke-width="1.15" />
<line x1="687.4999999999999" y1="330.0" x2="692.6999999999999" y2="330.0" stroke="#000" stroke-width="1.15" />
<line x1="687.4999999999999" y1="345.0" x2="692.6999999999999" y2="345.0" stroke="#000" stroke-width="1.15" />
<line x1="786.4499999999999" y1="349.8" x2="786.4499999999999" y2="372.7" stroke="#000" stroke-width="1.15" />
<line x1="783.8499999999999" y1="349.8" x2="789.05" y2="349.8" stroke="#000" stroke-width="1.15" />
<line x1="783.8499999999999" y1="372.7" x2="789.05" y2="372.7" stroke="#000" stroke-width="1.15" />
<line x1="593.75" y1="318.3" x2="593.75" y2="333.3" stroke="#000" stroke-width="1.15" />
<line x1="591.15" y1="318.3" x2="596.35" y2="318.3" stroke="#000" stroke-width="1.15" />
<line x1="591.15" y1="333.3" x2="596.35" y2="333.3" stroke="#000" stroke-width="1.15" />
<line x1="690.0999999999999" y1="384.4" x2="690.0999999999999" y2="412.1" stroke="#000" stroke-width="1.15" />
<line x1="687.4999999999999" y1="384.4" x2="692.6999999999999" y2="384.4" stroke="#000" stroke-width="1.15" />
<line x1="687.4999999999999" y1="412.1" x2="692.6999999999999" y2="412.1" stroke="#000" stroke-width="1.15" />
<line x1="786.4499999999999" y1="413.3" x2="786.4499999999999" y2="449.8" stroke="#000" stroke-width="1.15" />
<line x1="783.8499999999999" y1="413.3" x2="789.05" y2="413.3" stroke="#000" stroke-width="1.15" />
<line x1="783.8499999999999" y1="449.8" x2="789.05" y2="449.8" stroke="#000" stroke-width="1.15" />
<line x1="593.75" y1="273.9" x2="593.75" y2="282.2" stroke="#000" stroke-width="1.15" />
<line x1="591.15" y1="273.9" x2="596.35" y2="273.9" stroke="#000" stroke-width="1.15" />
<line x1="591.15" y1="282.2" x2="596.35" y2="282.2" stroke="#000" stroke-width="1.15" />
<line x1="690.0999999999999" y1="298.7" x2="690.0999999999999" y2="318.2" stroke="#000" stroke-width="1.15" />
<line x1="687.4999999999999" y1="298.7" x2="692.6999999999999" y2="298.7" stroke="#000" stroke-width="1.15" />
<line x1="687.4999999999999" y1="318.2" x2="692.6999999999999" y2="318.2" stroke="#000" stroke-width="1.15" />
<line x1="786.4499999999999" y1="330.8" x2="786.4499999999999" y2="352.9" stroke="#000" stroke-width="1.15" />
<line x1="783.8499999999999" y1="330.8" x2="789.05" y2="330.8" stroke="#000" stroke-width="1.15" />
<line x1="783.8499999999999" y1="352.9" x2="789.05" y2="352.9" stroke="#000" stroke-width="1.15" />
<line x1="593.75" y1="288.6" x2="593.75" y2="300.0" stroke="#000" stroke-width="1.15" />
<line x1="591.15" y1="288.6" x2="596.35" y2="288.6" stroke="#000" stroke-width="1.15" />
<line x1="591.15" y1="300.0" x2="596.35" y2="300.0" stroke="#000" stroke-width="1.15" />
<line x1="690.0999999999999" y1="326.0" x2="690.0999999999999" y2="336.5" stroke="#000" stroke-width="1.15" />
<line x1="687.4999999999999" y1="326.0" x2="692.6999999999999" y2="326.0" stroke="#000" stroke-width="1.15" />
<line x1="687.4999999999999" y1="336.5" x2="692.6999999999999" y2="336.5" stroke="#000" stroke-width="1.15" />
<line x1="786.4499999999999" y1="372.7" x2="786.4499999999999" y2="395.7" stroke="#000" stroke-width="1.15" />
<line x1="783.8499999999999" y1="372.7" x2="789.05" y2="372.7" stroke="#000" stroke-width="1.15" />
<line x1="783.8499999999999" y1="395.7" x2="789.05" y2="395.7" stroke="#000" stroke-width="1.15" />
<rect x="494.2" y="253.8" width="6.4" height="6.4" fill="#000"/>
<rect x="590.5" y="299.0" width="6.4" height="6.4" fill="#000"/>
<rect x="686.9" y="331.3" width="6.4" height="6.4" fill="#000"/>
<rect x="783.2" y="358.1" width="6.4" height="6.4" fill="#000"/>
<circle cx="497.4" cy="257.0" r="3.3" fill="#000"/>
<circle cx="593.8" cy="325.3" r="3.3" fill="#000"/>
<circle cx="690.1" cy="394.8" r="3.3" fill="#000"/>
<circle cx="786.4" cy="426.4" r="3.3" fill="#000"/>
<rect x="494.6" y="254.2" width="5.6" height="5.6" fill="#fff" stroke="#000" stroke-width="1.3"/>
<rect x="591.0" y="275.3" width="5.6" height="5.6" fill="#fff" stroke="#000" stroke-width="1.3"/>
<rect x="687.3" y="304.2" width="5.6" height="5.6" fill="#fff" stroke="#000" stroke-width="1.3"/>
<rect x="783.6" y="337.0" width="5.6" height="5.6" fill="#fff" stroke="#000" stroke-width="1.3"/>
<circle cx="497.4" cy="257.0" r="2.9" fill="#fff" stroke="#000" stroke-width="1.3"/>
<circle cx="593.8" cy="293.6" r="2.9" fill="#fff" stroke="#000" stroke-width="1.3"/>
<circle cx="690.1" cy="332.0" r="2.9" fill="#fff" stroke="#000" stroke-width="1.3"/>
<circle cx="786.4" cy="382.2" r="2.9" fill="#fff" stroke="#000" stroke-width="1.3"/>
<text x="690.0999999999999" y="299.05" font-size="17" text-anchor="middle" font-weight="normal" fill="#000" stroke="#000" stroke-width="0.3" >*</text>
<text x="787.3999999999999" y="326.95" font-size="17" text-anchor="middle" font-weight="normal" fill="#000" stroke="#000" stroke-width="0.3" letter-spacing="1.3">**</text>
<text x="691.7499999999999" y="431.95" font-size="17" text-anchor="middle" font-weight="normal" fill="#000" stroke="#000" stroke-width="0.3" letter-spacing="1.3">**</text>
<text x="787.3999999999999" y="466.95" font-size="17" text-anchor="middle" font-weight="normal" fill="#000" stroke="#000" stroke-width="0.3" letter-spacing="1.3">**</text>
<line x1="503.0" y1="416.3" x2="525.0" y2="416.3" stroke="#000" stroke-width="1.4" />
<rect x="510.8" y="413.1" width="6.4" height="6.4" fill="#000"/>
<text x="528.1" y="420.2" font-size="11.4" text-anchor="start" font-weight="normal" fill="#000" stroke="#000" stroke-width="0.3" >A375 (Control)</text>
<line x1="503.0" y1="430.8" x2="525.0" y2="430.8" stroke="#000" stroke-width="1.4" />
<circle cx="514.0" cy="430.8" r="3.3" fill="#000"/>
<text x="528.1" y="434.7" font-size="11.4" text-anchor="start" font-weight="normal" fill="#000" stroke="#000" stroke-width="0.3" >A375 (Lome (100 &#181;M))</text>
<line x1="503.0" y1="445.3" x2="525.0" y2="445.3" stroke="#000" stroke-width="1.4" />
<rect x="511.2" y="442.5" width="5.6" height="5.6" fill="#fff" stroke="#000" stroke-width="1.3"/>
<text x="528.1" y="449.2" font-size="11.4" text-anchor="start" font-weight="normal" fill="#000" stroke="#000" stroke-width="0.3" >MM415 (Control)</text>
<line x1="503.0" y1="460.0" x2="525.0" y2="460.0" stroke="#000" stroke-width="1.4" />
<circle cx="514.0" cy="460.0" r="2.9" fill="#fff" stroke="#000" stroke-width="1.3"/>
<text x="528.1" y="463.9" font-size="11.4" text-anchor="start" font-weight="normal" fill="#000" stroke="#000" stroke-width="0.3" >MM415 (Lome (100 &#181;M))</text>
<rect x="83" y="517.8" width="302.8" height="2.4" fill="#a0a0a0"/>
<rect x="83.0" y="471.7" width="302.8" height="46.099999999999966" fill="none" stroke="#1a1a1a" stroke-width="1.45"/>
<line x1="83.0" y1="489.5" x2="385.8" y2="489.5" stroke="#1a1a1a" stroke-width="1.45" />
<line x1="125.5" y1="471.7" x2="125.5" y2="517.8" stroke="#1a1a1a" stroke-width="1.45" />
<line x1="243.0" y1="471.7" x2="243.0" y2="517.8" stroke="#1a1a1a" stroke-width="1.45" />
<rect x="83.0" y="520.2" width="302.8" height="46.299999999999955" fill="none" stroke="#1a1a1a" stroke-width="1.45"/>
<line x1="83.0" y1="538.5" x2="385.8" y2="538.5" stroke="#1a1a1a" stroke-width="1.45" />
<line x1="125.5" y1="520.2" x2="125.5" y2="566.5" stroke="#1a1a1a" stroke-width="1.45" />
<line x1="243.0" y1="520.2" x2="243.0" y2="566.5" stroke="#1a1a1a" stroke-width="1.45" />
<text x="184.0" y="487.2" font-size="11.4" text-anchor="middle" font-weight="normal" fill="#000" stroke="#000" stroke-width="0.3" >DEF (Lome - 100 &#181;M)</text>
<text x="314.7" y="487.2" font-size="11.4" text-anchor="middle" font-weight="normal" fill="#000" stroke="#000" stroke-width="0.3" >PE (%)</text>
<text x="85.6" y="515.3" font-size="11.4" text-anchor="start" font-weight="normal" fill="#000" stroke="#000" stroke-width="0.3" >ACPK1</text>
<text x="184.7" y="515.3" font-size="11.4" text-anchor="middle" font-weight="normal" fill="#000" stroke="#000" stroke-width="0.3" >1.43</text>
<text x="314.5" y="501.7" font-size="11.4" text-anchor="middle" font-weight="normal" fill="#000" stroke="#000" stroke-width="0.3" >Control <tspan dy="-1">&#8211;</tspan><tspan dy="1"> </tspan>22.51 (&#177; 0.92)</text>
<text x="314.3" y="515.5" font-size="11.4" text-anchor="middle" font-weight="normal" fill="#000" stroke="#000" stroke-width="0.3" >Lome <tspan dy="-1">&#8211;</tspan><tspan dy="1"> </tspan>23.66 (&#177; 0.59)</text>
<text x="184.7" y="535.5" font-size="11.4" text-anchor="middle" font-weight="normal" fill="#000" stroke="#000" stroke-width="0.3" >DEF (Lome <tspan dy="-1">&#8211;</tspan><tspan dy="1"> </tspan>50 &#181;M)</text>
<text x="314.7" y="535.5" font-size="11.4" text-anchor="middle" font-weight="normal" fill="#000" stroke="#000" stroke-width="0.3" >PE (%)</text>
<text x="85.6" y="563.9" font-size="11.4" text-anchor="start" font-weight="normal" fill="#000" stroke="#000" stroke-width="0.3" >GBMJ1</text>
<text x="184.7" y="563.9" font-size="11.4" text-anchor="middle" font-weight="normal" fill="#000" stroke="#000" stroke-width="0.3" >1.48</text>
<text x="314.5" y="550.0" font-size="11.4" text-anchor="middle" font-weight="normal" fill="#000" stroke="#000" stroke-width="0.3" >Control <tspan dy="-1">&#8211;</tspan><tspan dy="1"> </tspan>15.72 (&#177; 0.76)</text>
<text x="314.3" y="563.6" font-size="11.4" text-anchor="middle" font-weight="normal" fill="#000" stroke="#000" stroke-width="0.3" >Lome <tspan dy="-1">&#8211;</tspan><tspan dy="1"> </tspan>13.47 (&#177; 0.60)</text>
<rect x="495.8" y="471.4" width="298.59999999999997" height="73.89999999999998" fill="none" stroke="#1a1a1a" stroke-width="1.45"/>
<line x1="495.1" y1="471.1" x2="795.1" y2="471.1" stroke="#1a1a1a" stroke-width="1.9" />
<line x1="495.8" y1="489.3" x2="794.4" y2="489.3" stroke="#1a1a1a" stroke-width="1.45" />
<line x1="495.8" y1="517.1" x2="794.4" y2="517.1" stroke="#1a1a1a" stroke-width="1.45" />
<line x1="541.7" y1="471.4" x2="541.7" y2="545.3" stroke="#1a1a1a" stroke-width="1.45" />
<line x1="656.8" y1="471.4" x2="656.8" y2="545.3" stroke="#1a1a1a" stroke-width="1.45" />
<text x="599.3" y="486.9" font-size="11.4" text-anchor="middle" font-weight="normal" fill="#000" stroke="#000" stroke-width="0.3" >DEF (Lome - 100 &#181;M)</text>
<text x="725.3" y="486.9" font-size="11.4" text-anchor="middle" font-weight="normal" fill="#000" stroke="#000" stroke-width="0.3" >PE (%)</text>
<text x="518.9" y="514.7" font-size="11.4" text-anchor="middle" font-weight="normal" fill="#000" stroke="#000" stroke-width="0.3" >A375</text>
<text x="599.3" y="514.7" font-size="11.4" text-anchor="middle" font-weight="normal" fill="#000" stroke="#000" stroke-width="0.3" >1.77</text>
<text x="518.6" y="542.5" font-size="11.4" text-anchor="middle" font-weight="normal" fill="#000" stroke="#000" stroke-width="0.3" >MM415</text>
<text x="599.3" y="542.5" font-size="11.4" text-anchor="middle" font-weight="normal" fill="#000" stroke="#000" stroke-width="0.3" >1.38</text>
<text x="725.4" y="501.0" font-size="11.4" text-anchor="middle" font-weight="normal" fill="#000" stroke="#000" stroke-width="0.3" >Control <tspan dy="-1">&#8211;</tspan><tspan dy="1"> </tspan>25.83 (&#177; 2.44)</text>
<text x="725.4" y="514.7" font-size="11.4" text-anchor="middle" font-weight="normal" fill="#000" stroke="#000" stroke-width="0.3" >Lome <tspan dy="-1">&#8211;</tspan><tspan dy="1"> </tspan>26.83 (&#177; 1.74)</text>
<text x="725.4" y="529.0" font-size="11.4" text-anchor="middle" font-weight="normal" fill="#000" stroke="#000" stroke-width="0.3" >Control <tspan dy="-1">&#8211;</tspan><tspan dy="1"> </tspan>15.16 (&#177; 2.05)</text>
<text x="725.4" y="542.5" font-size="11.4" text-anchor="middle" font-weight="normal" fill="#000" stroke="#000" stroke-width="0.3" >Lome <tspan dy="-1">&#8211;</tspan><tspan dy="1"> </tspan>14.83 (&#177; 1.99)</text>
</svg>
</body></html>
